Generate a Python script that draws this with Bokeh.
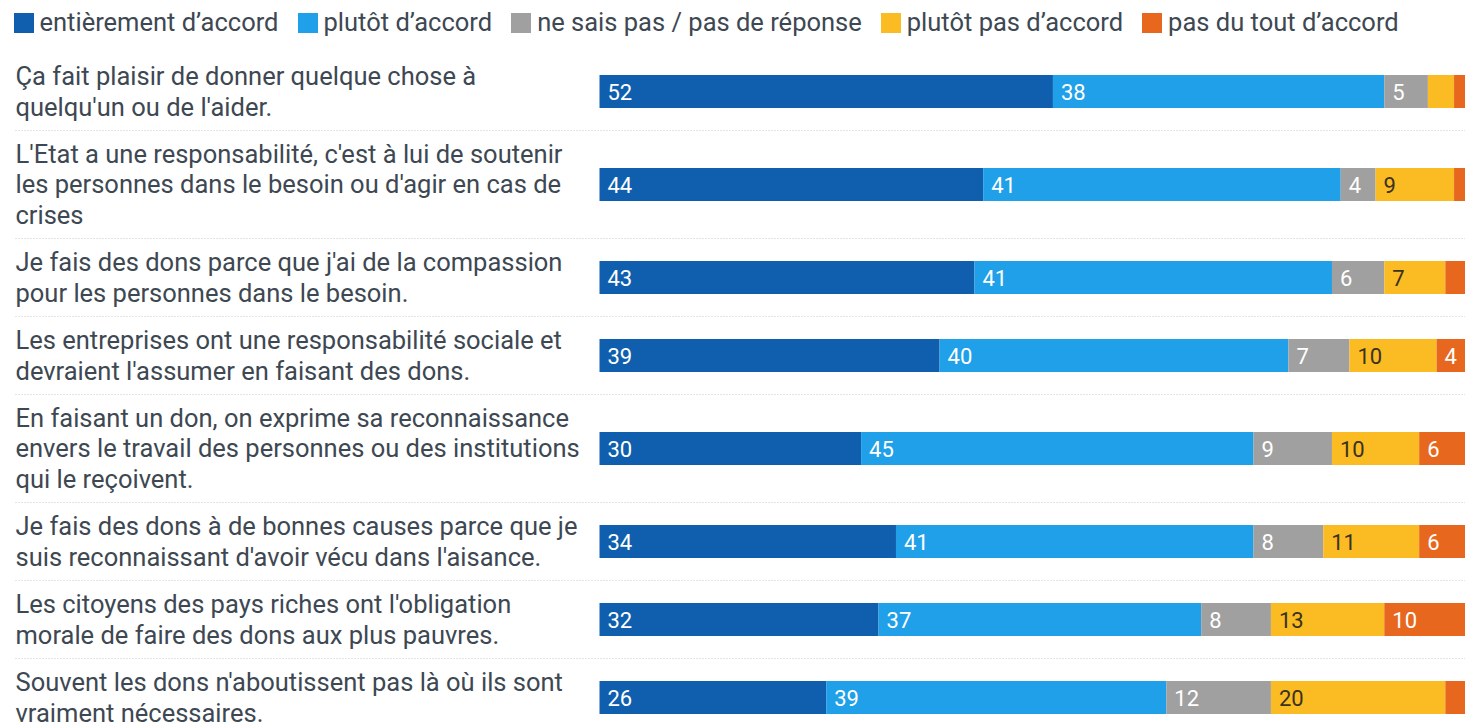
from bokeh.plotting import figure
from bokeh.models import ColumnDataSource, Range1d, Legend, LegendItem
from bokeh.core.properties import value
from bokeh.embed import file_html
from bokeh.resources import INLINE

# ---- data ----
statements = [
    "Ça fait plaisir de donner quelque chose à\nquelqu'un ou de l'aider.",
    "L'Etat a une responsabilité, c'est à lui de soutenir\nles personnes dans le besoin ou d'agir en cas de\ncrises",
    "Je fais des dons parce que j'ai de la compassion\npour les personnes dans le besoin.",
    "Les entreprises ont une responsabilité sociale et\ndevraient l'assumer en faisant des dons.",
    "En faisant un don, on exprime sa reconnaissance\nenvers le travail des personnes ou des institutions\nqui le reçoivent.",
    "Je fais des dons à de bonnes causes parce que je\nsuis reconnaissant d'avoir vécu dans l'aisance.",
    "Les citoyens des pays riches ont l'obligation\nmorale de faire des dons aux plus pauvres.",
    "Souvent les dons n'aboutissent pas là où ils sont\nvraiment nécessaires.",
]
series_names = [
    "entièrement d’accord",
    "plutôt d’accord",
    "ne sais pas / pas de réponse",
    "plutôt pas d’accord",
    "pas du tout d’accord",
]
entierement = [52, 44, 43, 39, 30, 34, 32, 26]
plutot = [38, 41, 41, 40, 45, 41, 37, 39]
ne_sais_pas = [5, 4, 6, 7, 9, 8, 8, 12]
plutot_pas = [3, 9, 7, 10, 10, 11, 13, 20]
pas_du_tout = [2, 2, 3, 4, 6, 6, 10, 3]

series_values = [entierement, plutot, ne_sais_pas, plutot_pas, pas_du_tout]
colors = ["#0f5fae", "#1fa0e8", "#a0a0a0", "#fbbb22", "#e8671f"]
label_colors = ["white", "white", "white", "#3a3220", "white"]

# ---- layout ----
W, H = 1465, 722
PX = 8.72            # pixels per percentage point
BAR_X0 = 599         # screen x of 0 %
LABEL_X = 15         # screen x of statement labels
FONT = "Roboto"
TEXT_COL = "#3d4852"

x_start = -BAR_X0 / PX
x_end = (W - BAR_X0) / PX
lab_x = (LABEL_X - BAR_X0) / PX

# row centres (in screen pixels from top) from the number of label lines
centers, bounds = [], []
top = 52
for s in statements:
    n = s.count("\n") + 1
    h = 18 + 30 * n
    centers.append(top + h / 2)
    top += h
    bounds.append(top)
bounds = bounds[:-1]

p = figure(width=W, height=H, output_backend="svg", toolbar_location=None,
           x_range=Range1d(x_start, x_end), y_range=Range1d(H, 0),
           min_border=0, outline_line_color=None)
p.axis.visible = False
p.grid.visible = False
p.background_fill_color = "white"
p.border_fill_color = "white"

# separators
p.segment(x0=[lab_x] * len(bounds), x1=[x_end] * len(bounds), y0=bounds, y1=bounds,
          line_color="#c9c9c9", line_width=1, line_dash="1 2")

# stacked bars
renderers = []
left = [0] * len(statements)
for name, vals, col, lcol in zip(series_names, series_values, colors, label_colors):
    right = [l + v for l, v in zip(left, vals)]
    src = ColumnDataSource(dict(y=centers, left=left, right=right,
                                txt=[str(v) if v >= 4 else "" for v in vals]))
    r = p.hbar(y="y", left="left", right="right", height=33, source=src,
               fill_color=col, line_color=None)
    renderers.append(r)
    p.text(x="left", y="y", text="txt", source=src, x_offset=8,
           text_font=value(FONT), text_font_size="22px", text_color=lcol,
           text_baseline="middle", text_align="left")
    left = right

# statement labels
p.text(x=[lab_x] * len(statements), y=centers, text=statements,
       text_font=value(FONT), text_font_size="25.5px", text_color=TEXT_COL,
       text_baseline="middle", text_align="left", text_line_height=1.02)

legend = Legend(items=[LegendItem(label=n, renderers=[r]) for n, r in zip(series_names, renderers)],
                orientation="horizontal", location=(5.5, H - 2 - 40),
                glyph_width=25, glyph_height=25, label_standoff=4, spacing=16,
                padding=5, margin=0, border_line_alpha=0, background_fill_alpha=0,
                label_text_font=FONT, label_text_font_size="25.5px",
                label_text_color=TEXT_COL, label_height=20)
p.add_layout(legend)

open("out.html", "w").write(file_html(p, INLINE))
